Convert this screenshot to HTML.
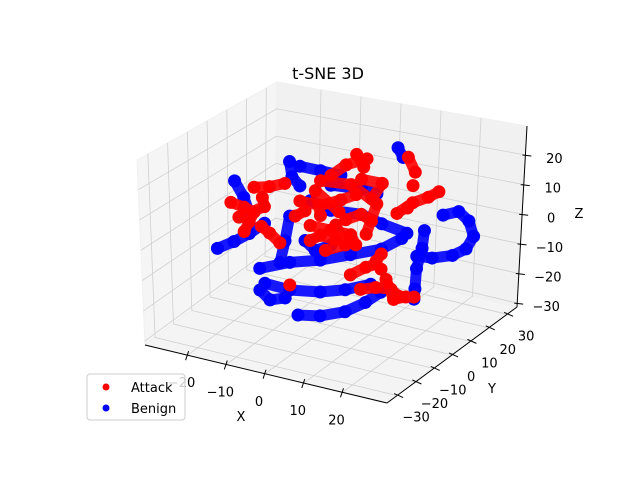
<!DOCTYPE html>
<html><head><meta charset="utf-8"><style>
body{margin:0;background:#fff;}
svg text{font-family:"DejaVu Sans","Liberation Sans",sans-serif;}
</style></head><body>
<svg id="chart" width="640" height="480" viewBox="0 0 640 480" xmlns="http://www.w3.org/2000/svg">
<rect width="640" height="480" fill="#fff"/>
<g id="panes"></g><g id="grid"></g><g id="axes"></g><g id="pts"></g>
<text x="328" y="79" font-size="16" text-anchor="middle">t-SNE 3D</text>
<text x="241" y="421" font-size="13" text-anchor="middle">X</text>
<text x="492" y="393" font-size="13" text-anchor="middle">Y</text>
<text x="579" y="218" font-size="13" text-anchor="middle">Z</text>
<g>
<rect x="87" y="374" width="98" height="46" rx="3" fill="#fff" fill-opacity="0.8" stroke="#ccc"/>
<g><circle cx="106" cy="387" r="3.5" fill="#f00"/><text x="131" y="392" font-size="13">Attack</text></g>
<g><circle cx="106" cy="408" r="3.5" fill="#00f"/><text x="131" y="413" font-size="13">Benign</text></g>
</g>
</svg>
<script>
const xTicks=[-20,-10,0,10,20];
const yTicks=[-30,-20,-10,0,10,20,30];
const zTicks=[-30,-20,-10,0,10,20];
const benign=[
[[28.3,0,13.9],[32.2,0,16.1],[34.8,0,13.7],[36.1,0,9.0],[34.3,0,4.4],[30.9,0,1.3],[25.8,0,-1.0],[21.9,0,-1.5]],
[[23.7,0,7.5],[23.2,0,1.5],[21.9,0,-5.6],[21.6,0,-12.4],[21.4,0,-15.9]],
[[-8.3,0,-30.3],[-2.6,0,-28.8],[3.8,0,-25.4],[9.0,0,-20.7],[12.9,0,-16.1]],
[[-28.9,0,-13.8],[-24.6,0,-10.1],[-20.7,0,-6.2],[-16.8,0,-1.5]],
[[-18.1,0,-17.4],[-10.4,0,-13.0],[-2.6,0,-9.9],[5.1,0,-5.8],[12.9,0,-1.7],[18.0,0,3.3]],
[[-16.8,0,-22.1],[-10.4,0,-22.4],[-2.6,0,-20.7],[3.8,0,-18.0],[10.3,0,-14.2]],
[[-24.3,0,10.9],[-22.0,0,5.9],[-20.7,0,1.2]],
[[-10.4,0,21.4],[-9.8,0,16.4],[-7.8,0,13.8]],
[[16.7,0,33.2],[18.0,0,30.3]],
[[-10.4,0,2.8],[-11.6,0,-6.0],[-12.9,0,-13.8]],
[[-5.2,0,9.5],[0,0,7.7],[7.7,0,8.5],[12.9,0,6.8],[19.3,0,5.4]],
[[-6.5,0,-4.4],[-3.9,0,-7.0],[0,0,-4.1]],
[[-18.1,0,-24.8],[-15.5,0,-27.4],[-11.6,0,-25.5]],
[[-7.8,0,20.5],[-2.6,0,20.4],[2.5,0,20.3]],
[[0,0,16.2],[7.7,0,17.0],[11.6,0,16.5]]
];
const attack=[
[[-25.3,0,3.2],[-22.0,0,2.5],[-19.4,0,1.6],[-20.7,0,-2.1],[-22.0,0,-5.9]],
[[-19.4,0,10.1],[-15.5,0,11.4],[-11.6,0,13.6]],
[[-7.8,0,8.7],[-2.6,0,8.6],[2.5,0,11.9],[6.4,0,14.8]],
[[0,0,19.5],[3.8,0,24.1],[9.0,0,27.5]],
[[6.4,0,28.3],[8.2,0,24.5]],
[[-5.2,0,1.1],[0,0,1.0],[5.1,0,0.9],[6.4,0,-2.1]],
[[-5.2,0,-4.0],[-2.6,0,-1.5],[1.3,0,-2.0]],
[[3.8,0,5.6],[7.7,0,8.5],[10.3,0,7.0]],
[[16.7,0,11.3],[20.6,0,15.9],[24.5,0,18.8],[27.1,0,21.3]],
[[19.3,0,30.7],[21.1,0,26.2]],
[[-17.6,0,-2.8],[-15.5,0,-4.5],[-12.9,0,-7.1]],
[[-9.0,0,3.2],[-6.5,0,5.7]],
[[5.1,0,-12.6],[9.0,0,-8.9],[11.6,0,-7.1]],
[[7.7,0,-16.7],[11.6,0,-14.9],[15.5,0,-14.3],[17.6,0,-16.1]],
[[12.9,0,-3.3],[11.6,0,-6.1]],
[[7.7,0,20.3],[12.9,0,20.3],[10.3,0,14.4]],
[[20.6,0,21.6]],
[[-10.4,0,-20.7]],
[[14.2,0,-11.4],[16.2,0,-17.5],[19.3,0,-15.8],[21.4,0,-15.2]],
[[-2.6,0,5.2],[-3.9,0,13.3],[2.1,0,7.8]],
[[1.3,0,3.1],[3.8,0,-2.9],[-1.3,0,-6.2]],
[[9.0,0,2.2],[11.6,0,13.1],[5.1,0,17.8],[-2.6,0,17.0]],
[[-23.3,0,-1.3],[-16.8,0,4.2],[-17.3,0,7.2]],
[[12.9,0,-8.4]],
[[19.3,0,13.8]]
];
const XR=[-31,31.5],YR=[-35.5,35.4],ZR=[-31.3,29.8];
function P(x,y,z){
 const u=(x-XR[0])/(XR[1]-XR[0]),v=(y-YR[0])/(YR[1]-YR[0]),w=(z-ZR[0])/(ZR[1]-ZR[0]);
 const ezx=-8+8*u+10*v, ezy=-185-5*u+18*v-9*u*v;
 return [145+242*u+130*v+w*ezx, 345+58*u-96*v+w*ezy];
}
const NS="http://www.w3.org/2000/svg";
function mk(tag,attrs,parent){const e=document.createElementNS(NS,tag);for(const k in attrs)e.setAttribute(k,attrs[k]);document.getElementById(parent).appendChild(e);return e;}
function poly(pts){return pts.map(p=>P(...p).join(',')).join(' ');}
const [x0,x1]=XR,[y0,y1]=YR,[z0,z1]=ZR;
let e;
e=mk('polygon',{points:poly([[x0,y0,z0],[x0,y1,z0],[x0,y1,z1],[x0,y0,z1]]),fill:'#f5f5f5',stroke:'#f0f0f0'},'panes');

e=mk('polygon',{points:poly([[x0,y1,z0],[x1,y1,z0],[x1,y1,z1],[x0,y1,z1]]),fill:'#f1f1f1',stroke:'#f0f0f0'},'panes');

e=mk('polygon',{points:poly([[x0,y0,z0],[x1,y0,z0],[x1,y1,z0],[x0,y1,z0]]),fill:'#f4f4f4',stroke:'#f0f0f0'},'panes');

const gs={stroke:'#d0d0d0','stroke-width':0.8,fill:'none'};
xTicks.forEach(t=>{
 e=mk('polyline',Object.assign({points:poly([[t,y0,z0],[t,y1,z0],[t,y1,z1]])},gs),'grid');
 
});
yTicks.forEach(t=>{
 e=mk('polyline',Object.assign({points:poly([[x1,t,z0],[x0,t,z0],[x0,t,z1]])},gs),'grid');
 
});
zTicks.forEach(t=>{
 e=mk('polyline',Object.assign({points:poly([[x0,y0,t],[x0,y1,t],[x1,y1,t]])},gs),'grid');
 
});
const ax={stroke:'#000','stroke-width':1,fill:'none'};
e=mk('polyline',Object.assign({points:poly([[x0,y0,z0],[x1,y0,z0]])},ax),'axes');

e=mk('polyline',Object.assign({points:poly([[x1,y0,z0],[x1,y1,z0]])},ax),'axes');

e=mk('polyline',Object.assign({points:poly([[x1,y1,z0],[x1,y1,z1]])},ax),'axes');

function lab(p,dx,dy,txt,anchor,name){
 const t=mk('text',{x:p[0]+dx,y:p[1]+dy,'font-size':13,'text-anchor':anchor},'axes');t.textContent=txt;
 
}
function lbl(t){return t<0?'\u2212'+(-t):''+t;}
xTicks.forEach(t=>{
 const a=P(t,y0,z0);
 e=mk('line',{x1:a[0]+1,y1:a[1]-4,x2:a[0]-2,y2:a[1]+5,stroke:'#000'},'axes');
 
 lab(a,-6,32,lbl(t),'middle','x-tick-label');
});
yTicks.forEach(t=>{
 const a=P(x1,t,z0);
 e=mk('line',{x1:a[0]-3,y1:a[1]-2,x2:a[0]+6,y2:a[1]+2,stroke:'#000'},'axes');
 
 lab(a,19,26,lbl(t),'middle','y-tick-label');
});
zTicks.forEach(t=>{
 const a=P(x1,y1,t);
 e=mk('line',{x1:a[0]-3,y1:a[1],x2:a[0]+6,y2:a[1]+1,stroke:'#000'},'axes');
 
 lab(a,29,8,lbl(t),'middle','z-tick-label');
});
function series(data,color,name){
 data.forEach(stroke=>{
  const pl=mk('polyline',{points:poly(stroke),stroke:color,'stroke-width':11,'stroke-linecap':'round','stroke-linejoin':'round',fill:'none','stroke-opacity':0.9},'pts');
  
  
  stroke.forEach(p=>{
   const q=P(...p);
   const c=mk('circle',{cx:q[0],cy:q[1],r:6.5,fill:color},'pts');
   
   
  });
 });
}
series(benign,'#0000ff','benign');
series(attack,'#ff0000','attack');
</script>
</body></html>
